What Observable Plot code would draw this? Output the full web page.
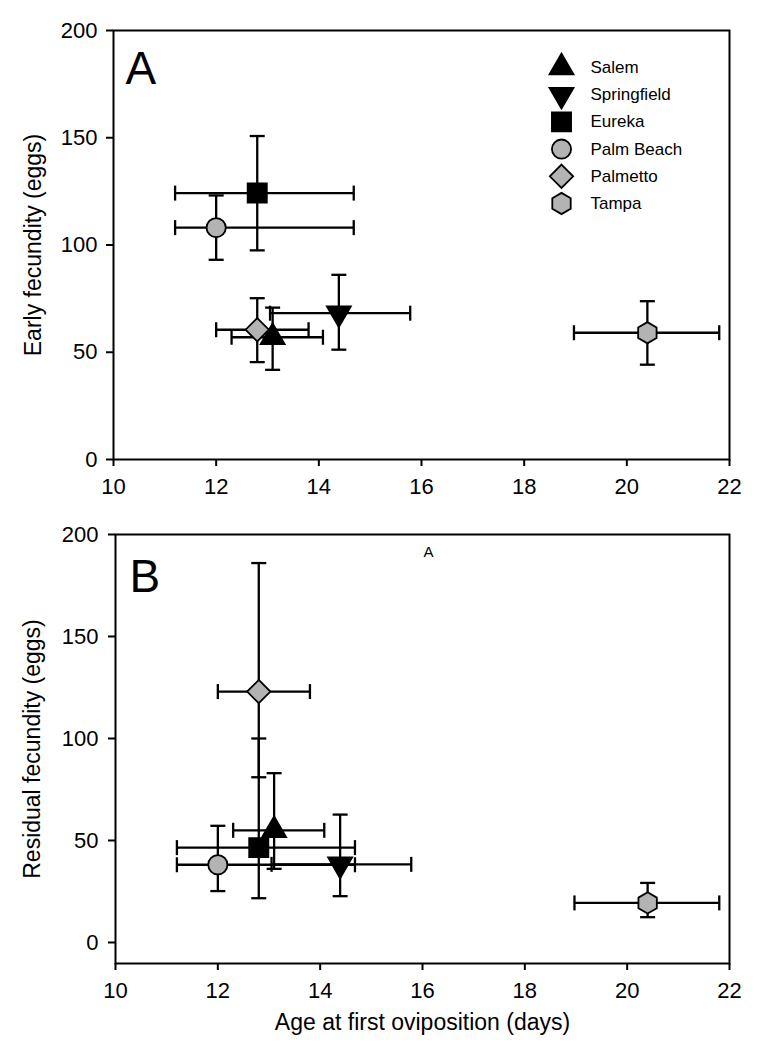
<!DOCTYPE html>
<html><head><meta charset="utf-8">
<script src="https://cdn.jsdelivr.net/npm/d3@7"></script>
<script src="https://cdn.jsdelivr.net/npm/@observablehq/plot@0.6"></script>
<style>
body{margin:0;background:#fff;}
#chart{width:763px;}
#chart svg{display:block;}
</style></head><body><div id="chart"></div>
<script>
// ---- data ----
const populations = ["Salem", "Springfield", "Eureka", "Palm Beach", "Palmetto", "Tampa"];
const ageMean  = [13.1, 14.39, 12.8, 12.0, 12.8, 20.4];
const ageLow   = [12.3, 13.05, 11.2, 11.2, 12.0, 18.97];
const ageHigh  = [14.08, 15.78, 14.68, 14.68, 13.8, 21.8];
const earlyMean = [57, 68.2, 124.2, 108.1, 60.5, 59.1];
const earlyLow  = [41.8, 51.2, 97.5, 93.1, 45.4, 44.2];
const earlyHigh = [70.8, 86.1, 150.8, 123.1, 75.2, 73.8];
const residualMean = [55, 38.3, 46.5, 38.1, 123, 19.4];
const residualLow  = [36.1, 22.7, 21.7, 25.2, 81, 12.4];
const residualHigh = [83, 62.7, 100, 57.2, 186, 29.2];
const xTicks = [10, 12, 14, 16, 18, 20, 22];
const yTicks = [0, 50, 100, 150, 200];

const rows = populations.map((name, i) => ({
  name, age: ageMean[i], ageLo: ageLow[i], ageHi: ageHigh[i],
  early: earlyMean[i], earlyLo: earlyLow[i], earlyHi: earlyHigh[i],
  resid: residualMean[i], residLo: residualLow[i], residHi: residualHigh[i]
}));

// ---- styles ----
const GRAY = "#b3b3b3";
const styles = {
  "Salem":       {symbol: "triangle", fill: "black", r: 8.9, rotate: 0},
  "Springfield": {symbol: "triangle", fill: "black", r: 8.9, rotate: 180},
  "Eureka":      {symbol: "square",   fill: "black", r: 10.8, rotate: 0},
  "Palm Beach":  {symbol: "circle",   fill: GRAY,   r: 9.6, rotate: 0},
  "Palmetto":    {symbol: "diamond2", fill: GRAY,   r: 10.5, rotate: 0},
  "Tampa":       {symbol: "hexagon",  fill: GRAY,   r: 9.2, rotate: 0}
};
const drawOrder = ["Tampa", "Palmetto", "Palm Beach", "Eureka", "Springfield", "Salem"];
const FONT = "'Liberation Sans', Arial, Helvetica, sans-serif";
const LW = 2.3;
const capH = {draw(ctx) { ctx.moveTo(-7.5, 0); ctx.lineTo(7.5, 0); }};
const capV = {draw(ctx) { ctx.moveTo(0, -7.5); ctx.lineTo(0, 7.5); }};

function errorMarks(yKey, loKey, hiKey) {
  return [
    Plot.ruleX(rows, {x: "age", y1: loKey, y2: hiKey, stroke: "black", strokeWidth: LW}),
    Plot.ruleY(rows, {y: yKey, x1: "ageLo", x2: "ageHi", stroke: "black", strokeWidth: LW}),
    Plot.dot(rows, {x: "age", y: loKey, symbol: capH, r: 5, fill: "none", stroke: "black", strokeWidth: LW}),
    Plot.dot(rows, {x: "age", y: hiKey, symbol: capH, r: 5, fill: "none", stroke: "black", strokeWidth: LW}),
    Plot.dot(rows, {x: "ageLo", y: yKey, symbol: capV, r: 5, fill: "none", stroke: "black", strokeWidth: LW}),
    Plot.dot(rows, {x: "ageHi", y: yKey, symbol: capV, r: 5, fill: "none", stroke: "black", strokeWidth: LW})
  ];
}
function symbolMarks(yKey) {
  return drawOrder.map(name => {
    const s = styles[name];
    return Plot.dot(rows.filter(d => d.name === name), {
      x: "age", y: yKey, symbol: s.symbol, r: s.r, rotate: s.rotate,
      fill: s.fill, stroke: "black", strokeWidth: 1.8
    });
  });
}
function axes(tickPadY) {
  return [
    Plot.axisX({ticks: xTicks, tickFormat: d => d, tickSize: 7, tickPadding: 12, fontSize: 22, strokeWidth: 2, label: null}),
    Plot.axisY({ticks: yTicks, tickFormat: d => d, tickSize: 7, tickPadding: tickPadY, fontSize: 22, strokeWidth: 2, label: null}),
    Plot.frame({stroke: "black", strokeWidth: 2})
  ];
}

// ---- Panel A ----
const legendMarks = populations.flatMap((name, i) => {
  const s = styles[name];
  return [
    Plot.dot([name], {frameAnchor: "top-left", dx: 448, dy: 37 + i * 27.2, symbol: s.symbol,
      r: s.r, rotate: s.rotate, fill: s.fill, stroke: "black", strokeWidth: 1.8}),
    Plot.text([name], {frameAnchor: "top-left", dx: 477, dy: 37 + i * 27.2, text: d => d,
      textAnchor: "start", lineAnchor: "middle", fontSize: 17, fill: "black"})
  ];
});

const panelA = Plot.plot({
  width: 763, height: 520,
  marginLeft: 113, marginRight: 34, marginTop: 30, marginBottom: 61,
  style: {fontFamily: FONT, color: "black", background: "white", overflow: "visible"},
  x: {domain: [10, 22]},
  y: {domain: [0, 200]},
  marks: [
    ...errorMarks("early", "earlyLo", "earlyHi"),
    ...symbolMarks("early"),
    ...axes(9),
    ...legendMarks,
    Plot.text(["A"], {frameAnchor: "top-left", dx: 12, dy: 21, text: d => d, textAnchor: "start",
      lineAnchor: "top", fontSize: 46, fill: "black"}),
    Plot.text(["Early fecundity (eggs)"], {frameAnchor: "left", dx: -80, rotate: -90, text: d => d,
      textAnchor: "middle", lineAnchor: "middle", fontSize: 23, fill: "black"})
  ]
});

// ---- Panel B ----
const panelB = Plot.plot({
  width: 763, height: 530,
  marginLeft: 115, marginRight: 34, marginTop: 14, marginBottom: 87,
  style: {fontFamily: FONT, color: "black", background: "white", overflow: "visible"},
  x: {domain: [10, 22]},
  y: {domain: [-10.3, 200]},
  marks: [
    ...errorMarks("resid", "residLo", "residHi"),
    ...symbolMarks("resid"),
    ...axes(10),
    Plot.text(["B"], {frameAnchor: "top-left", dx: 14, dy: 25, text: d => d, textAnchor: "start",
      lineAnchor: "top", fontSize: 46, fill: "black"}),
    Plot.text(["A"], {frameAnchor: "top", dx: 6, dy: 18, text: d => d, textAnchor: "middle",
      lineAnchor: "middle", fontSize: 15, fill: "black"}),
    Plot.text(["Residual fecundity (eggs)"], {frameAnchor: "left", dx: -83, rotate: -90, text: d => d,
      textAnchor: "middle", lineAnchor: "middle", fontSize: 23, fill: "black"}),
    Plot.text(["Age at first oviposition (days)"], {frameAnchor: "bottom", dy: 59, text: d => d,
      textAnchor: "middle", lineAnchor: "middle", fontSize: 23, fill: "black"})
  ]
});

const chart = document.getElementById("chart");
chart.appendChild(panelA);
chart.appendChild(panelB);
</script>
</body></html>
